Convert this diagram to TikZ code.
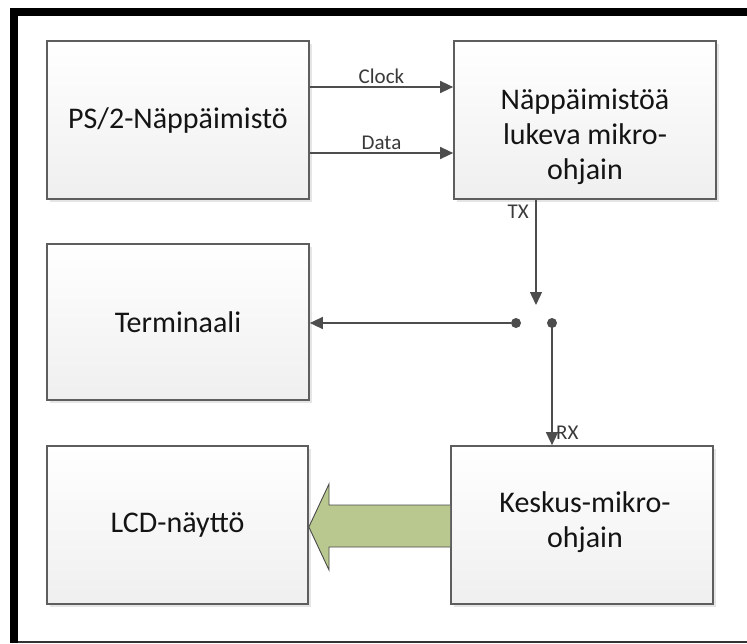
\documentclass[tikz,border=0pt]{standalone}
\usepackage{fontspec}
\setmainfont{Carlito}
\usetikzlibrary{shadows,arrows.meta,calc}
\definecolor{edge}{HTML}{5E5E5E}
\definecolor{wire}{HTML}{4D4D4D}
\definecolor{txt}{HTML}{141414}
\definecolor{lbl}{HTML}{3A3A3A}
\definecolor{boxbot}{HTML}{EFEFEF}
\definecolor{bigarrow}{HTML}{B8C88E}
\definecolor{bigarrowedge}{HTML}{4A4A4A}
\tikzset{
  blockbox/.style={draw=edge, line width=1.7pt, top color=white, bottom color=boxbot,
    minimum width=262pt, inner sep=0pt, align=center, text=txt,
    font=\fontsize{30}{35}\selectfont,
    drop shadow={shadow xshift=3pt, shadow yshift=-3pt, opacity=0.10, fill=black}},
  conn/.style={draw=wire, line width=1.4pt, -{Triangle[length=13pt,width=12pt]}},
  sig/.style={text=lbl, font=\fontsize{21}{24}\selectfont, inner sep=1pt},
  dot/.style={circle, fill=wire, inner sep=0pt, minimum size=10pt},
}
\begin{document}
\begin{tikzpicture}[x=1pt,y=-1pt]
\useasboundingbox (0,0) rectangle (747,643);
\fill[white] (0,0) rectangle (747,643);
% frame
\fill[black] (10,8) rectangle (747,16);
\fill[black] (10,8) rectangle (18,643);
\fill[black!80] (18,641) rectangle (747,642.5);
% boxes
\node[blockbox, minimum height=158pt] (ps2) at (178,120) {PS/2-Näppäimistö};
\node[blockbox, minimum height=158pt] (nap) at (585,120) {};
\node[text=txt, font=\fontsize{30}{35}\selectfont, align=center] (naptxt) at (585,137) {Näppäimistöä\\lukeva mikro-\\ohjain};
\node[blockbox, minimum height=156pt] (term) at (178,322) {Terminaali};
\node[blockbox, minimum height=158pt, minimum width=261pt] (lcd) at (177.5,525) {LCD-näyttö};
\node[blockbox, minimum height=158pt] (kes) at (582,525) {};
\node[text=txt, font=\fontsize{30}{35}\selectfont, align=center] (kestxt) at (585,522) {Keskus-mikro-\\ohjain};
% clock / data
\coordinate (clk) at (380,87);
\coordinate (dat) at (380,153);
\draw[conn] (ps2.east |- clk) -- node[sig, above=2pt] (clklbl) {Clock} (nap.west |- clk);
\draw[conn] (ps2.east |- dat) -- node[sig, above=2pt] (datlbl) {Data} (nap.west |- dat);
% switch
\coordinate (txx) at (536,0);
\coordinate (txend) at (536,305);
\node[dot] (swl) at (516,323) {};
\node[dot] (swr) at (552,323) {};
\draw[conn] (nap.south -| txx) -- (txend);
\node[sig, anchor=east] (txlbl) at (530,212) {TX};
\draw[conn] (swl) -- (term.east |- swl);
\draw[conn] (swr.center) -- (kes.north -| swr);
\node[sig, anchor=west] (rxlbl) at (555,433) {RX};
% big arrow
\draw[fill=bigarrow, draw=bigarrowedge, line width=0.9pt]
  (kes.west |- 0,505) -- (329,505) -- (329,484) -- (lcd.east |- 0,527) -- (329,570) -- (329,547) -- (kes.west |- 0,547);
\end{tikzpicture}
\end{document}
